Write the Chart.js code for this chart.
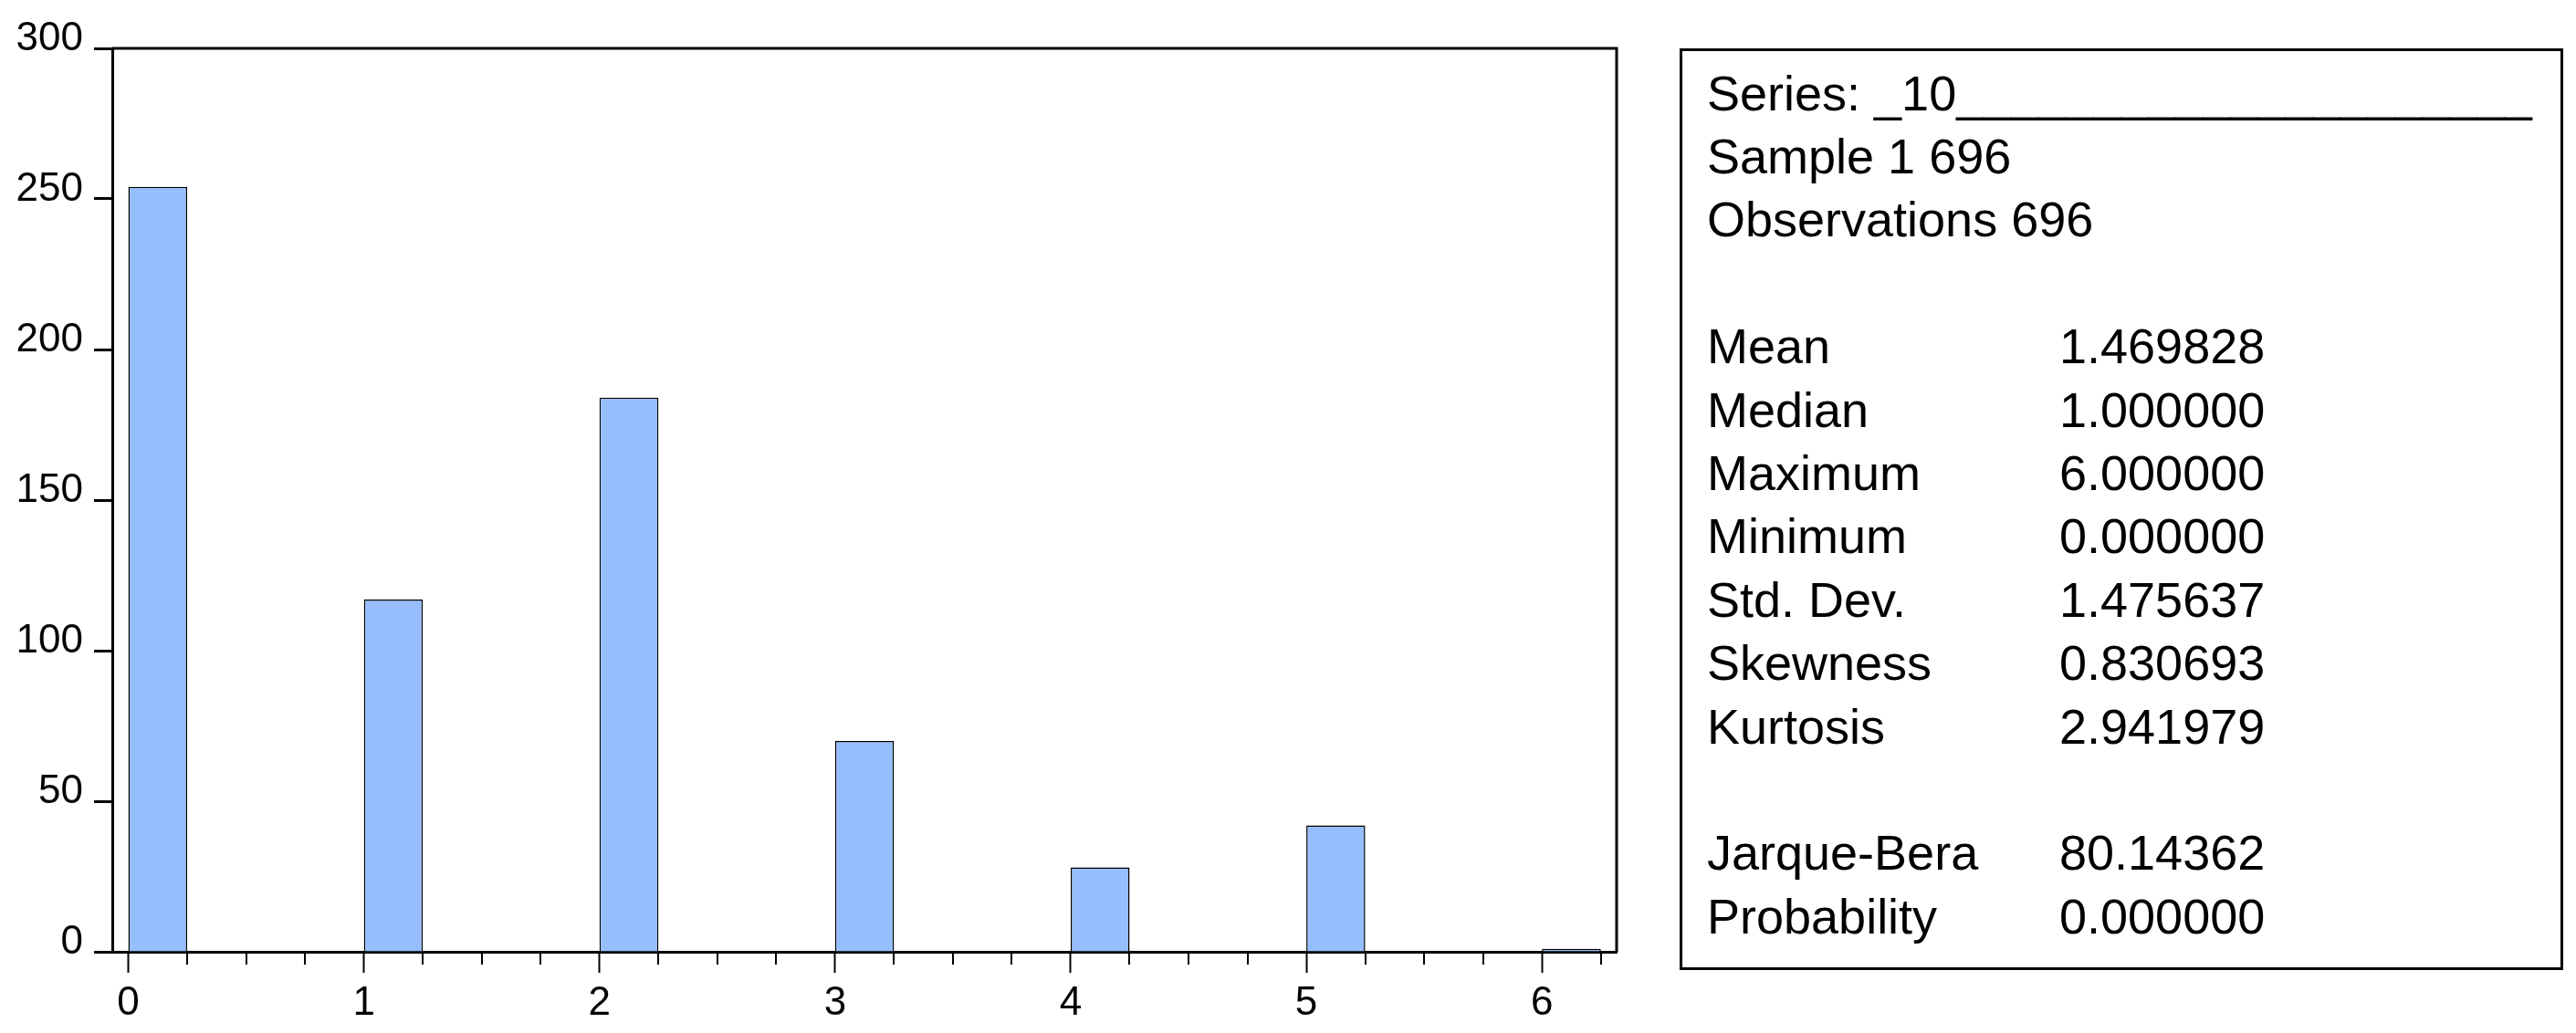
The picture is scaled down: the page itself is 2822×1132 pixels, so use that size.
<!DOCTYPE html>
<html>
<head>
<meta charset="utf-8">
<script src="https://cdn.jsdelivr.net/npm/chart.js@4/dist/chart.umd.min.js"></script>
<style>
html,body{margin:0;padding:0;background:#fff;width:2822px;height:1132px;overflow:hidden}
#wrap{position:absolute;left:0;top:0;width:2822px;height:1132px}
#stats{position:absolute;left:1840px;top:53px;width:962px;height:1004px;border:3px solid #000;
  font-family:"Liberation Sans",Arial,sans-serif;font-size:54px;color:#000}
.row{position:absolute;left:27px;height:69.4px;line-height:69.4px;white-space:pre}
.val{position:absolute;left:386px;top:0}
</style>
</head>
<body>
<div id="wrap"><canvas id="c" width="2822" height="1132"></canvas></div>
<div id="stats"></div>
<script>
// ---- data ----
const binStarts = [0, 1, 2, 3, 4, 5, 6];
const counts = [254, 117, 184, 70, 28, 42, 1];
const binWidth = 0.25;
const xTickLabels = [0, 1, 2, 3, 4, 5, 6];
const yTickLabels = [0, 50, 100, 150, 200, 250, 300];
const headerLines = ["Series: _10" + "_".repeat(21), "Sample 1 696", "Observations 696"];
const statLabels = ["Mean", "Median", "Maximum", "Minimum", "Std. Dev.", "Skewness", "Kurtosis"];
const statValues = ["1.469828", "1.000000", "6.000000", "0.000000", "1.475637", "0.830693", "2.941979"];
const testLabels = ["Jarque-Bera", "Probability"];
const testValues = ["80.14362", "0.000000"];

// ---- stats box (real text) ----
const box = document.getElementById('stats');
const rows = [];
headerLines.forEach(t => rows.push([t, null]));
rows.push(null);
statLabels.forEach((t, i) => rows.push([t, statValues[i]]));
rows.push(null);
testLabels.forEach((t, i) => rows.push([t, testValues[i]]));
rows.forEach((r, i) => {
  if (!r) return;
  const d = document.createElement('div');
  d.className = 'row';
  d.style.top = (11.6 + i * 69.4) + 'px';
  d.textContent = r[0];
  if (r[1] !== null) {
    const v = document.createElement('span');
    v.className = 'val';
    v.textContent = r[1];
    d.appendChild(v);
  }
  box.appendChild(d);
});

// ---- chart ----
Chart.defaults.font.family = '"Liberation Sans", Arial, sans-serif';
Chart.defaults.color = '#000';

const framePlugin = {
  id: 'frameAndMinor',
  afterDraw(chart) {
    const ctx = chart.ctx, a = chart.chartArea, x = chart.scales.x;
    ctx.save();
    ctx.strokeStyle = '#000';
    ctx.lineWidth = 2;
    const nSteps = Math.round((binStarts[binStarts.length - 1] + binWidth) / binWidth);
    for (let k = 1; k <= nSteps; k++) {
      const v = k * binWidth;
      if (Math.abs(v - Math.round(v)) < 1e-9) continue;
      const px = Math.round(x.getPixelForValue(v));
      ctx.beginPath();
      ctx.moveTo(px, a.bottom);
      ctx.lineTo(px, a.bottom + 14);
      ctx.stroke();
    }
    ctx.lineWidth = 3;
    ctx.beginPath();
    ctx.moveTo(a.left, a.top);
    ctx.lineTo(a.right, a.top);
    ctx.lineTo(a.right, a.bottom);
    ctx.stroke();
    ctx.restore();
  }
};

new Chart(document.getElementById('c'), {
  type: 'bar',
  data: {
    datasets: [{
      data: binStarts.map((s, i) => ({ x: s + binWidth / 2, y: counts[i] })),
      backgroundColor: '#96BEFF',
      borderColor: '#000',
      borderWidth: 1.5,
      barPercentage: binWidth,
      categoryPercentage: 1
    }]
  },
  options: {
    responsive: false,
    animation: false,
    devicePixelRatio: 1,
    layout: { padding: { top: 53, right: 1051, left: 0, bottom: 0 } },
    plugins: { legend: { display: false }, tooltip: { enabled: false } },
    scales: {
      x: {
        type: 'linear',
        offset: false,
        min: -0.068,
        max: 6.317,
        afterBuildTicks: s => { s.ticks = xTickLabels.map(v => ({ value: v })); },
        afterFit: s => { s.height = 89; },
        grid: { offset: false, drawOnChartArea: false, drawTicks: true, tickLength: 23, tickWidth: 2, tickColor: '#000' },
        border: { display: true, color: '#000', width: 3 },
        ticks: { font: { size: 44 }, padding: 7, color: '#000', maxRotation: 0, autoSkip: false }
      },
      y: {
        min: 0,
        max: 300,
        afterBuildTicks: s => { s.ticks = yTickLabels.map(v => ({ value: v })); },
        afterFit: s => { s.width = 123; },
        grid: { drawOnChartArea: false, drawTicks: true, tickLength: 20, tickWidth: 3, tickColor: '#000' },
        border: { display: true, color: '#000', width: 3 },
        ticks: { font: { size: 44 }, padding: 12, color: '#000', labelOffset: -10 }
      }
    }
  },
  plugins: [framePlugin]
});
</script>
</body>
</html>
